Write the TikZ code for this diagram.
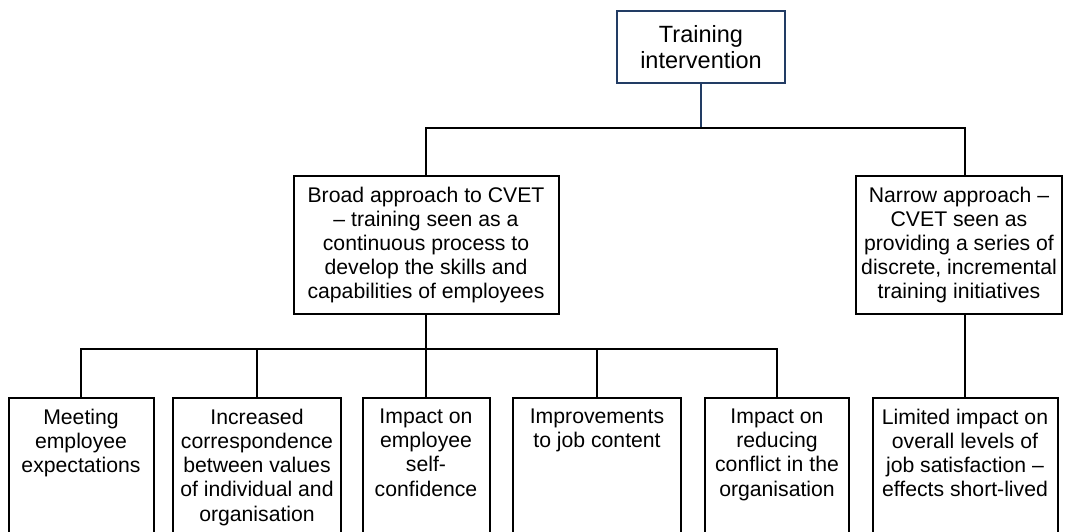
\documentclass[tikz,border=0pt]{standalone}
\usepackage{fontspec}
\setmainfont{Liberation Sans}
\definecolor{topblue}{RGB}{34,60,100}
\begin{document}
\begin{tikzpicture}[x=1pt,y=-1pt,line width=2pt,
  box/.style={draw, rectangle, inner sep=0pt, align=center,
    font=\fontsize{21.2}{24.2}\selectfont},
  lowbox/.style={draw, rectangle, inner sep=0pt, anchor=north, minimum height=170},
  lowtext/.style={anchor=north, inner sep=0pt, align=center,
    font=\fontsize{21.2}{24.2}\selectfont},
  conn/.style={draw=black, line width=2pt}]
\useasboundingbox (0,0) rectangle (1065,531);
\clip (0,0) rectangle (1065,531);
\fill[white] (0,0) rectangle (1065,531);

\node[box, draw=topblue, minimum width=168, minimum height=72,
  font=\fontsize{23.5}{26}\selectfont] (top) at (701,47) {Training\\intervention};
\node[box, minimum width=265, minimum height=138] (broad) at (426,245)
  {Broad approach to CVET\\– training seen as a\\continuous process to\\develop the skills and\\capabilities of employees};
\node[box, minimum width=206, minimum height=138] (narrow) at (959,245)
  {Narrow approach –\\CVET seen as\\providing a series of\\discrete, incremental\\training initiatives};

\node[lowbox, minimum width=145] (m1) at (81,397) {};
\node[lowbox, minimum width=168] (m2) at (257,397) {};
\node[lowbox, minimum width=127] (m3) at (426,397) {};
\node[lowbox, minimum width=168] (m4) at (597,397) {};
\node[lowbox, minimum width=144] (m5) at (777,397) {};
\node[lowbox, minimum width=185] (m6) at (965,397) {};

\node[lowtext] (t1) at ([yshift=-11pt]m1.north) {Meeting\\employee\\expectations};
\node[lowtext] (t2) at ([yshift=-11pt]m2.north) {Increased\\correspondence\\between values\\of individual and\\organisation};
\node[lowtext] (t3) at ([yshift=-11pt]m3.north) {Impact on\\employee\\self-\\confidence};
\node[lowtext] (t4) at ([yshift=-11pt]m4.north) {Improvements\\to job content};
\node[lowtext] (t5) at ([yshift=-11pt]m5.north) {Impact on\\reducing\\conflict in the\\organisation};
\node[lowtext] (t6) at ([yshift=-11pt]m6.north) {Limited impact on\\overall levels of\\job satisfaction –\\effects short-lived};

\coordinate (hl) at (426,128);
\coordinate (hr) at (965,128);
\coordinate (hm) at (701,128);
\coordinate (bl) at (81,349);

\draw[topblue, line width=2pt] (top.south) -- (hm);
\draw[conn] (hl |- broad.north) -- (hl) -- (hr) -- (hr |- narrow.north);
\draw[conn] (broad.south) -- (broad.south |- bl);
\draw[conn] (m1.north) -- (m1.north |- bl) -- (m5.north |- bl) -- (m5.north);
\draw[conn] (m2.north |- bl) -- (m2.north);
\draw[conn] (m3.north |- bl) -- (m3.north);
\draw[conn] (m4.north |- bl) -- (m4.north);
\draw[conn] (hr |- narrow.south) -- (hr |- m6.north);
\end{tikzpicture}
\end{document}
